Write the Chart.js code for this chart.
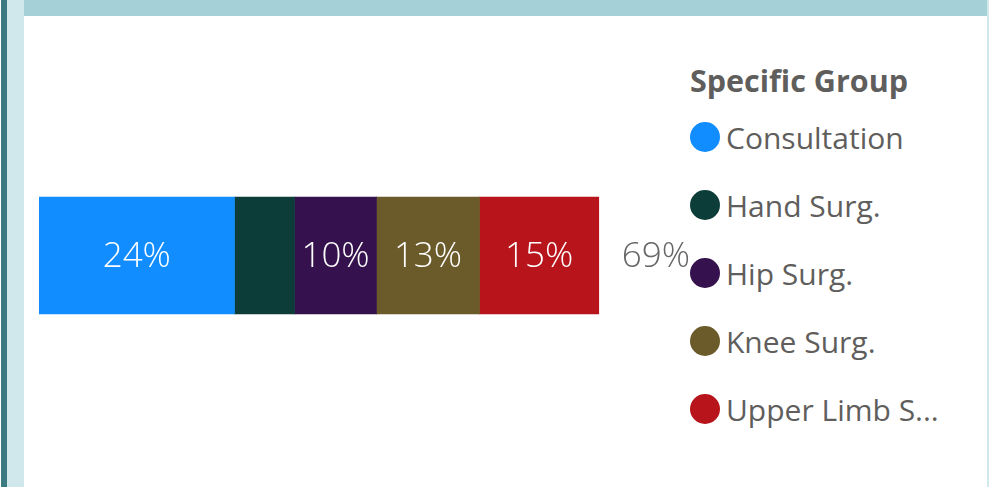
<!DOCTYPE html>
<html>
<head>
<meta charset="utf-8">
<script src="https://cdn.jsdelivr.net/npm/chart.js@4"></script>
<style>
    body { margin: 0; width: 989px; height: 487px; background: #fff; position: relative; overflow: hidden; font-family: 'Open Sans', sans-serif; }
    #edgeDark { position: absolute; left: 1px; top: 0; width: 6px; height: 487px; background: #3b7a80; }
    #edgeLight { position: absolute; left: 7px; top: 0; width: 17px; height: 487px; background: #d0e8ec; }
    #edgeRight { position: absolute; left: 987px; top: 0; width: 2px; height: 487px; background: #d0e8ec; }
    #header { position: absolute; left: 24px; top: 0; width: 963px; height: 16px; background: #a6d0d8; }
    #chartBox { position: absolute; left: 24px; top: 16px; width: 664px; height: 471px; }
    #legendBox { position: absolute; left: 690px; top: 58px; color: #605e5c; }
    #legendBox .title { font-weight: 700; font-size: 30.5px; line-height: 44px; height: 45px; }
    #legendBox .item { display: flex; align-items: center; height: 68px; font-size: 30px; }
    #legendBox .dot { width: 30px; height: 30px; border-radius: 50%; margin-right: 6px; }
</style>
</head>
<body>
<div id="edgeDark"></div>
<div id="edgeLight"></div>
<div id="edgeRight"></div>
<div id="header"></div>
<div id="chartBox"><canvas id="groupChart"></canvas></div>
<div id="legendBox"></div>
<script>
const categories = ['Consultation', 'Hand Surg.', 'Hip Surg.', 'Knee Surg.', 'Upper Limb Surg.']
const shares = [24.1, 7.4, 10.1, 12.7, 14.7]
const shareLabels = ['24%', '', '10%', '13%', '15%']
const totalLabel = '69%'
const colors = ['#118dff', '#0d3d38', '#35124d', '#6b5a2a', '#b8141b']
const legendTitle = 'Specific Group'

const datasets = categories.map((name, i) => ({
    label: name,
    data: [shares[i]],
    backgroundColor: colors[i],
    barThickness: 117,
}))

// value labels inside each segment, plus the total after the bar
const segmentLabels = {
    id: 'segmentLabels',
    afterDatasetsDraw(chart) {
        const ctx = chart.ctx
        ctx.save()
        ctx.font = '300 35px "Open Sans"'
        ctx.textBaseline = 'middle'
        ctx.textAlign = 'center'
        let lastBar = null
        chart.data.datasets.forEach((ds, i) => {
            const bar = chart.getDatasetMeta(i).data[0]
            lastBar = bar
            if (!shareLabels[i]) return
            ctx.fillStyle = '#ffffff'
            ctx.fillText(shareLabels[i], (bar.x + bar.base) / 2, bar.y + 2)
        })
        ctx.fillStyle = '#666666'
        ctx.textAlign = 'left'
        ctx.fillText(totalLabel, lastBar.x + 23, lastBar.y + 2)
        ctx.restore()
    }
}

const myChart = new Chart(document.getElementById('groupChart'), {
    type: 'bar',
    data: { labels: ['All'], datasets: datasets },
    options: {
        indexAxis: 'y',
        responsive: true,
        maintainAspectRatio: false,
        animation: false,
        layout: { padding: { left: 15, top: 8, right: 0, bottom: 0 } },
        scales: {
            x: { stacked: true, min: 0, max: 80, display: false },
            y: { stacked: true, display: false },
        },
        plugins: {
            legend: { display: false },
            tooltip: { enabled: false },
        },
    },
    plugins: [segmentLabels],
})

// html legend built from the chart's own legend items
const legendLoc = document.getElementById('legendBox')
let legendHTML = '<div class="title">' + legendTitle + '</div>'
const items = Chart.defaults.plugins.legend.labels.generateLabels(myChart)
items.forEach(item => {
    let text = item.text
    if (text.length > 14) text = text.slice(0, 12) + '...'
    legendHTML += '<div class="item"><span class="dot" style="background:' + item.fillStyle + '"></span>' + text + '</div>'
})
legendLoc.innerHTML = legendHTML
</script>
</body>
</html>
